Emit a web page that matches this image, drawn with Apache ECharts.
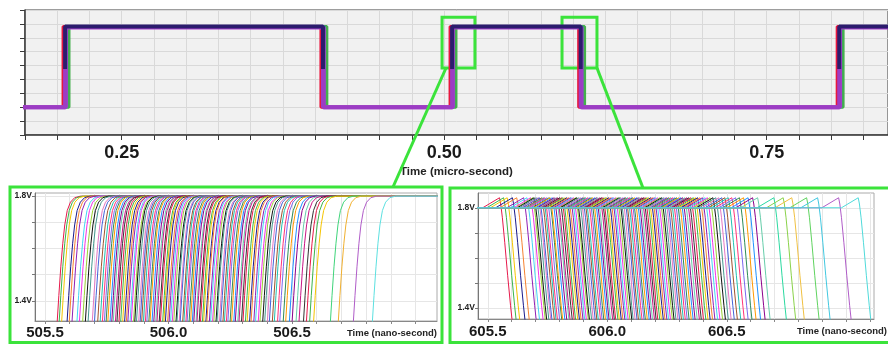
<!DOCTYPE html>
<html>
<head>
<meta charset="utf-8">
<script src="https://cdn.jsdelivr.net/npm/echarts@6/dist/echarts.min.js"></script>
<style>
	html, body { margin: 0; padding: 0; background: #fff; }
	#chart { width: 888px; height: 344px; }
</style>
</head>
<body>
<div id="chart"></div>
<script>
//---------------------------- top waveform (micro-second) ----------------------------
var topLabelValues = [0.25, 0.50, 0.75];
// rise, fall, rise, fall, rise
var topEdges = [0.2061, 0.4060, 0.5061, 0.6058, 0.8062];
var topTraceShift = [0.0030, 0.0012, -0.0016, 0.0006, 0];
var topTraceHigh = [1.80, 1.80, 1.80, 1.78, 1.80];
var topTraceLow = [0, 0, 0, 0, 0];
var topTraceColors = ['#45b04c', '#3d8f8a', '#e8173f', '#a63fcb', '#2c1c6e'];
var topTraceWidths = [3, 3, 3, 4, 4];
// [x0, y0, x1, y1] of the two green zoom boxes
var zoomBoxes = [[0.4983, 2.01, 0.5238, 0.873], [0.5913, 2.01, 0.6184, 0.873]];

//---------------------------- zoom panels (nano-second) ----------------------------
var leftTicks = [505.5, 505.6, 505.7, 505.8, 505.9, 506.0, 506.1, 506.2, 506.3, 506.4, 506.5, 506.6, 506.7, 506.8, 506.9, 507.0];
var leftLabels = [505.5, 506.0, 506.5];
var rightTicks = [605.5, 605.6, 605.7, 605.8, 605.9, 606.0, 606.1, 606.2, 606.3, 606.4, 606.5, 606.6, 606.7, 606.8, 606.9, 607.0, 607.1];
var rightLabels = [605.5, 606.0, 606.5];
var voltTicks = [1.4, 1.5, 1.6, 1.7, 1.8];
var voltLabels = [1.4, 1.8];

// rising edge shape, relative to the time it enters the panel
var riseDt = [0, 0.008, 0.016, 0.024, 0.032, 0.042, 0.055, 0.072, 0.095];
var riseV = [1.30, 1.42, 1.53, 1.62, 1.69, 1.745, 1.777, 1.794, 1.80];
// falling edge shape, relative to the kick-back peak
var fallDt = [-0.07, 0, 0.005, 0.012, 0.022, 0.034, 0.046, 0.056];
var fallV = [1.80, 1.84, 1.815, 1.76, 1.66, 1.53, 1.41, 1.32];

var leftStarts = [
	505.548, 505.556, 505.566, 505.588, 505.597, 505.608, 505.628, 505.638, 505.651, 505.662, 505.673, 505.690, 505.699, 505.712, 505.722,
	505.731, 505.739, 505.746, 505.753, 505.762, 505.769, 505.775, 505.784, 505.790, 505.798, 505.805, 505.813, 505.821, 505.828, 505.834,
	505.843, 505.848, 505.857, 505.862, 505.869, 505.878, 505.884, 505.890, 505.897, 505.905, 505.911, 505.919, 505.924, 505.932, 505.939,
	505.947, 505.952, 505.961, 505.966, 505.975, 505.980, 505.986, 505.995, 506.001, 506.007, 506.014, 506.020, 506.029, 506.033, 506.042,
	506.046, 506.056, 506.061, 506.069, 506.074, 506.082, 506.088, 506.095, 506.101, 506.110, 506.114, 506.123, 506.128, 506.136, 506.141,
	506.150, 506.154, 506.164, 506.169, 506.177, 506.182, 506.191, 506.195, 506.205, 506.210, 506.219, 506.225, 506.233, 506.239, 506.248,
	506.254, 506.263, 506.269, 506.279, 506.284, 506.294, 506.300, 506.310, 506.317, 506.327, 506.333, 506.344, 506.351, 506.362, 506.369,
	506.380, 506.388, 506.399, 506.407, 506.419, 506.427, 506.440, 506.449, 506.463, 506.473, 506.488, 506.499, 506.515, 506.527,
	506.545, 506.557, 506.570, 506.586, 506.654, 506.686, 506.747, 506.824
];
var rightPeaks = [
	605.549, 605.566, 605.581, 605.603, 605.621, 605.650, 605.664, 605.679, 605.688, 605.694, 605.703, 605.711, 605.716, 605.726, 605.733,
	605.739, 605.748, 605.757, 605.761, 605.770, 605.778, 605.787, 605.792, 605.801, 605.809, 605.815, 605.824, 605.831, 605.838, 605.846,
	605.853, 605.860, 605.868, 605.873, 605.882, 605.889, 605.897, 605.904, 605.910, 605.919, 605.926, 605.933, 605.940, 605.948, 605.955,
	605.961, 605.970, 605.977, 605.983, 605.992, 605.998, 606.006, 606.013, 606.021, 606.027, 606.035, 606.042, 606.050, 606.056, 606.064,
	606.072, 606.078, 606.086, 606.093, 606.101, 606.107, 606.115, 606.123, 606.130, 606.137, 606.145, 606.152, 606.159, 606.167, 606.174,
	606.182, 606.189, 606.197, 606.204, 606.212, 606.220, 606.227, 606.235, 606.243, 606.250, 606.258, 606.266, 606.274, 606.282, 606.290,
	606.299, 606.307, 606.315, 606.324, 606.333, 606.341, 606.350, 606.360, 606.369, 606.378, 606.388, 606.398, 606.409, 606.419, 606.430,
	606.442, 606.454, 606.466, 606.479, 606.492, 606.506, 606.521, 606.537, 606.553, 606.570, 606.589, 606.608, 606.629,
	606.697, 606.736, 606.772, 606.834, 606.880, 606.968, 607.050
];

var tracePalette = ['#e6194b', '#3cb44b', '#f5c400', '#1a1a8c', '#f58231', '#911eb4', '#42d4f4', '#f032e6', '#9ad135', '#111111',
	'#469990', '#e377c2', '#4363d8', '#a0522d', '#20c0b0', '#ff3377', '#7b68ee', '#2e8b57', '#ff9900', '#1e90ff', '#8b008b',
	'#66cdaa', '#c71585', '#333333'];
var leftTailColors = ['#3fd47a', '#f0b030', '#b05cc8', '#5ce0e0'];
var rightTailColors = ['#2bd9a0', '#8ad24a', '#f0c040', '#5fd35f', '#40c8e0', '#b05cc8', '#4fdada'];

var GREEN = '#3be33b';
var FONT = '"Liberation Sans", Arial, sans-serif';

(function() {
	'use strict';

	var chart = echarts.init(document.getElementById('chart'), null, { renderer: 'canvas' });

	function squareWave(shift, high, low) {
		var pts = [[0.17, low]];
		var level = low;
		topEdges.forEach(function(e) {
			pts.push([e + shift, level]);
			level = (level === low) ? high : low;
			pts.push([e + shift, level]);
		});
		pts.push([0.85, level]);
		return pts;
	}

	function pickColor(i, n, tail) {
		var k = i - (n - tail.length);
		return k >= 0 ? tail[k] : tracePalette[i % tracePalette.length];
	}

	function numFmt(d) {
		return function(v) { return v.toFixed(d); };
	}

	var series = [];

	//---------------------------- top traces ----------------------------
	for (var i = 0; i < topTraceColors.length; i++) {
		var col = topTraceColors[i];
		if (i === topTraceColors.length - 1) {
			// the top-most trace reads navy on the high level and purple on the low level
			col = {
				type: 'linear', x: 0, y: 0, x2: 0, y2: 344, global: true,
				colorStops: [
					{ offset: 0, color: '#2c1c6e' }, { offset: 0.2, color: '#2c1c6e' },
					{ offset: 0.2, color: '#9c3cc4' }, { offset: 1, color: '#9c3cc4' }
				]
			};
		}
		series.push({
			type: 'line', xAxisIndex: 0, yAxisIndex: 0,
			data: squareWave(topTraceShift[i], topTraceHigh[i], topTraceLow[i]),
			showSymbol: false, silent: true, animation: false,
			lineStyle: { width: topTraceWidths[i], color: col }
		});
	}
	// green zoom boxes
	series.push({
		type: 'line', xAxisIndex: 0, yAxisIndex: 0, data: [], z: 20, silent: true, animation: false,
		markArea: {
			silent: true,
			itemStyle: { color: 'rgba(0,0,0,0)', borderColor: GREEN, borderWidth: 3 },
			data: zoomBoxes.map(function(b) {
				return [{ xAxis: b[0], yAxis: b[1] }, { xAxis: b[2], yAxis: b[3] }];
			})
		}
	});

	//---------------------------- left panel: rising edges ----------------------------
	leftStarts.forEach(function(t0, i) {
		var pts = [[t0 - 0.004, 1.2]];
		for (var k = 0; k < riseDt.length; k++) pts.push([t0 + riseDt[k], riseV[k]]);
		pts.push([507.4, 1.8]);
		series.push({
			type: 'line', xAxisIndex: 1, yAxisIndex: 1, data: pts,
			showSymbol: false, silent: true, animation: false,
			lineStyle: { width: 1, color: pickColor(i, leftStarts.length, leftTailColors) }
		});
	});

	//---------------------------- right panel: falling edges ----------------------------
	rightPeaks.forEach(function(tp, i) {
		var pts = [[605.3, 1.8]];
		for (var k = 0; k < fallDt.length; k++) pts.push([tp + fallDt[k], fallV[k]]);
		pts.push([tp + 0.07, 1.2]);
		series.push({
			type: 'line', xAxisIndex: 2, yAxisIndex: 2, data: pts,
			showSymbol: false, silent: true, animation: false,
			lineStyle: { width: 1, color: pickColor(i, rightPeaks.length, rightTailColors) }
		});
	});

	function panelX(min, max, ticks, labels, idx, nameGap, labelMargin) {
		return {
			type: 'value', gridIndex: idx, min: min, max: max,
			name: 'Time (nano-second)', nameLocation: 'end', nameGap: nameGap,
			nameTextStyle: { fontFamily: FONT, fontWeight: 'bold', fontSize: 9.5, color: '#222', align: 'right', verticalAlign: 'top', padding: [7, 0, 0, 0] },
			axisLine: { onZero: false, lineStyle: { color: '#888', width: 1 } },
			axisTick: { show: true, customValues: ticks, length: 3, lineStyle: { color: '#888' } },
			axisLabel: { customValues: labels, formatter: numFmt(1), fontFamily: FONT, fontWeight: 'bold', fontSize: 15, color: '#1a1a1a', margin: labelMargin },
			splitLine: { show: true, lineStyle: { color: '#e6e6e6', width: 1 } }
		};
	}

	function panelY(min, max, idx) {
		return {
			type: 'value', gridIndex: idx, min: min, max: max,
			axisLine: { show: true, onZero: false, lineStyle: { color: '#777', width: 1 } },
			axisTick: { show: true, customValues: voltTicks, length: 3, lineStyle: { color: '#777' } },
			axisLabel: { customValues: voltLabels, formatter: function(v) { return v.toFixed(1) + 'V'; }, fontFamily: FONT, fontWeight: 'bold', fontSize: 8.5, color: '#222', margin: 3 },
			splitLine: { show: true, lineStyle: { color: '#e6e6e6', width: 1 } }
		};
	}

	var option = {
		backgroundColor: '#ffffff',
		animation: false,
		grid: [
			{ left: 25, right: 0, top: 10, height: 125, show: true, backgroundColor: '#f1f1f1', borderColor: '#3a3a3a', borderWidth: 1 },
			{ left: 35, top: 193, width: 402, height: 128, show: true, backgroundColor: '#ffffff', borderColor: '#aaa', borderWidth: 1 },
			{ left: 478, top: 193, width: 406, height: 126, show: true, backgroundColor: '#ffffff', borderColor: '#aaa', borderWidth: 1 }
		],
		xAxis: [
			{
				type: 'value', gridIndex: 0, min: 0.175, max: 0.844, interval: 0.025,
				name: 'Time (micro-second)', nameLocation: 'middle', nameGap: 31,
				nameTextStyle: { fontFamily: FONT, fontWeight: 'bold', fontSize: 11.5, color: '#222' },
				axisLine: { onZero: false, lineStyle: { color: '#3a3a3a', width: 1.5 } },
				axisTick: { show: true, length: 5, lineStyle: { color: '#3a3a3a', width: 1 } },
				axisLabel: { customValues: topLabelValues, formatter: numFmt(2), fontFamily: FONT, fontWeight: 'bold', fontSize: 18, color: '#1a1a1a', margin: 9 },
				splitLine: { show: true, lineStyle: { color: '#d9d9d9', width: 1 } }
			},
			panelX(505.4595, 507.087, leftTicks, leftLabels, 1, 0, 4),
			panelX(605.459, 607.116, rightTicks, rightLabels, 2, 13, 5)
		],
		yAxis: [
			{
				type: 'value', gridIndex: 0, min: -0.62, max: 2.17, interval: 0.31,
				axisLine: { show: true, onZero: false, lineStyle: { color: '#3a3a3a', width: 1.5 } },
				axisTick: { show: true, length: 5, lineStyle: { color: '#3a3a3a', width: 1 } },
				axisLabel: { show: false },
				splitLine: { show: true, lineStyle: { color: '#d9d9d9', width: 1 } }
			},
			panelY(1.323, 1.812, 1),
			panelY(1.355, 1.859, 2)
		],
		series: series,
		graphic: [
			{ type: 'rect', z: 100, silent: true, shape: { x: 10, y: 187, width: 432, height: 155.5 }, style: { fill: 'none', stroke: GREEN, lineWidth: 3 } },
			{ type: 'rect', z: 100, silent: true, shape: { x: 450, y: 188, width: 445, height: 154.5 }, style: { fill: 'none', stroke: GREEN, lineWidth: 3 } },
			{ type: 'line', z: 100, silent: true, shape: { x1: 446, y1: 68, x2: 393, y2: 187 }, style: { stroke: GREEN, lineWidth: 3 } },
			{ type: 'line', z: 100, silent: true, shape: { x1: 597, y1: 68, x2: 643, y2: 188 }, style: { stroke: GREEN, lineWidth: 3 } }
		]
	};
	chart.setOption(option);
})();
</script>
</body>
</html>
